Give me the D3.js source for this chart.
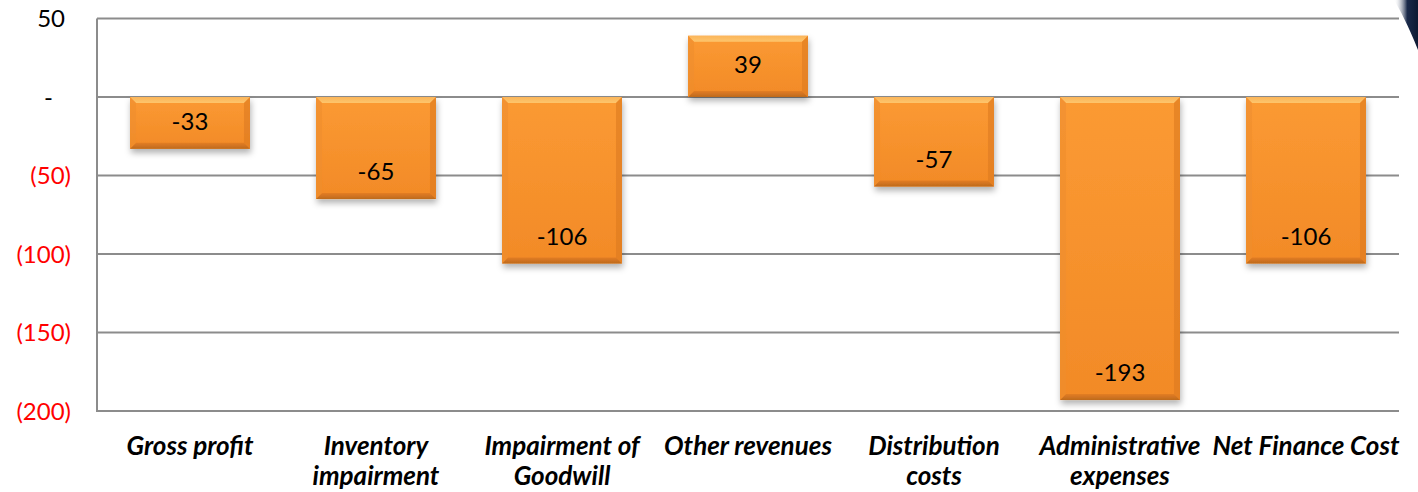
<!DOCTYPE html>
<html>
<head>
<meta charset="utf-8">
<script src="https://cdn.jsdelivr.net/npm/d3@7"></script>
<style>
  html, body { margin: 0; padding: 0; background: #fff; }
  svg { display: block; }
</style>
</head>
<body>
<svg id="chart" width="1418" height="492"></svg>
<script>
const categories = ["Gross profit", "Inventory impairment", "Impairment of Goodwill", "Other revenues", "Distribution costs", "Administrative expenses", "Net Finance Cost"];
const categoryLines = [["Gross profit"], ["Inventory", "impairment"], ["Impairment of", "Goodwill"], ["Other revenues"], ["Distribution", "costs"], ["Administrative", "expenses"], ["Net Finance Cost"]];
const values = [-33, -65, -106, 39, -57, -193, -106];
const yTicks = [50, 0, -50, -100, -150, -200];
const yDomain = [-200, 50];

const svg = d3.select("#chart");
const plotLeft = 97, plotRight = 1399, plotTop = 18.5, plotBottom = 411;
const FONT = "Lato, 'Open Sans', 'DejaVu Sans', sans-serif";

const x = d3.scaleBand().domain(categories).range([plotLeft, plotRight]).paddingInner(0.355).paddingOuter(0.1775);
const y = d3.scaleLinear().domain(yDomain).range([plotBottom, plotTop]);

const defs = svg.append("defs");
const fill = defs.append("linearGradient").attr("id", "barFill").attr("x1", 0).attr("y1", 0).attr("x2", 0).attr("y2", 1);
fill.append("stop").attr("offset", "0%").attr("stop-color", "#FB9A33");
fill.append("stop").attr("offset", "100%").attr("stop-color", "#F28A27");
const topBevel = defs.append("linearGradient").attr("id", "topBevel").attr("x1", 0).attr("y1", 0).attr("x2", 0).attr("y2", 1);
topBevel.append("stop").attr("offset", "0%").attr("stop-color", "#FBB55A");
topBevel.append("stop").attr("offset", "100%").attr("stop-color", "#FDC56C");
const botBevel = defs.append("linearGradient").attr("id", "botBevel").attr("x1", 0).attr("y1", 0).attr("x2", 0).attr("y2", 1);
botBevel.append("stop").attr("offset", "0%").attr("stop-color", "#E37D24");
botBevel.append("stop").attr("offset", "100%").attr("stop-color", "#BE6A1D");
const flt = defs.append("filter").attr("id", "shadow").attr("x", "-20%").attr("y", "-20%").attr("width", "140%").attr("height", "140%");
flt.append("feDropShadow").attr("dx", 1).attr("dy", 4).attr("stdDeviation", 3).attr("flood-color", "#000").attr("flood-opacity", 0.3);
const swoosh = defs.append("linearGradient").attr("id", "swoosh").attr("x1", 0).attr("y1", 0).attr("x2", 1).attr("y2", 0);
swoosh.append("stop").attr("offset", "0%").attr("stop-color", "#ffffff").attr("stop-opacity", 0);
swoosh.append("stop").attr("offset", "55%").attr("stop-color", "#1a2a4a");
swoosh.append("stop").attr("offset", "100%").attr("stop-color", "#0d1a33");

// decorative swoosh top-right
svg.append("path")
  .attr("d", "M1394,0 C1400,10 1408,25 1418,50 L1418,0 Z")
  .attr("fill", "url(#swoosh)");

// gridlines
svg.append("g").selectAll("line").data(yTicks).join("line")
  .attr("x1", plotLeft).attr("x2", plotRight)
  .attr("y1", d => y(d)).attr("y2", d => y(d))
  .attr("stroke", "#8c8c8c").attr("stroke-width", 2);

// y axis line
svg.append("line").attr("x1", plotLeft).attr("x2", plotLeft).attr("y1", plotTop).attr("y2", plotBottom + 1)
  .attr("stroke", "#8c8c8c").attr("stroke-width", 2);

// y axis labels
const fmt = d => d > 0 ? String(d) : d === 0 ? "-" : `(${-d})`;
const yAxis = d3.axisLeft(y).tickValues(yTicks).tickFormat(fmt).tickSize(0).tickPadding(0);
const gy = svg.append("g").attr("transform", "translate(71,0)").call(yAxis);
gy.select(".domain").remove();
gy.selectAll("text")
  .attr("font-family", FONT).attr("font-size", 24)
  .attr("fill", d => d < 0 ? "#FF0000" : "#000")
  .attr("dx", d => d > 0 ? -6 : d === 0 ? -18 : 0)
  .attr("dy", "0.35em");

// bars
const bars = svg.append("g").selectAll("g").data(values).join("g")
  .attr("filter", "url(#shadow)");
bars.each(function(v, i) {
  const g = d3.select(this);
  const x0 = x(categories[i]), w = x.bandwidth();
  const y0 = Math.min(y(v), y(0)), h = Math.abs(y(v) - y(0));
  const b = 6;
  g.append("rect").attr("x", x0).attr("y", y0).attr("width", w).attr("height", h).attr("fill", "url(#barFill)");
  g.append("path").attr("d", `M${x0},${y0} L${x0 + w},${y0} L${x0 + w - b},${y0 + b} L${x0 + b},${y0 + b} Z`).attr("fill", "url(#topBevel)");
  g.append("path").attr("d", `M${x0},${y0 + h} L${x0 + w},${y0 + h} L${x0 + w - b},${y0 + h - b} L${x0 + b},${y0 + h - b} Z`).attr("fill", "url(#botBevel)");
  g.append("path").attr("d", `M${x0},${y0} L${x0 + b},${y0 + b} L${x0 + b},${y0 + h - b} L${x0},${y0 + h} Z`).attr("fill", "#EE8E2E").attr("opacity", 0.6);
  g.append("path").attr("d", `M${x0 + w},${y0} L${x0 + w - b},${y0 + b} L${x0 + w - b},${y0 + h - b} L${x0 + w},${y0 + h} Z`).attr("fill", "#DC7A21").attr("opacity", 0.6);
});

// value labels (inside end)
svg.append("g").selectAll("text").data(values).join("text")
  .attr("x", (d, i) => x(categories[i]) + x.bandwidth() / 2)
  .attr("y", d => y(d) + (d < 0 ? -27 : 29))
  .attr("dy", "0.35em")
  .attr("text-anchor", "middle")
  .attr("font-family", FONT).attr("font-size", 24)
  .attr("fill", "#000")
  .text(d => d);

// category labels
const gx = svg.append("g");
categories.forEach((c, i) => {
  const cx = x(c) + x.bandwidth() / 2;
  const t = gx.append("text")
    .attr("x", cx)
    .attr("y", 455)
    .attr("text-anchor", "middle")
    .attr("font-family", FONT).attr("font-size", 26)
    .attr("font-weight", "bold").attr("font-style", "italic")
    .attr("fill", "#000");
  categoryLines[i].forEach((ln, k) => {
    t.append("tspan").attr("x", cx).attr("dy", k === 0 ? 0 : 30).text(ln);
  });
});
</script>
</body>
</html>
